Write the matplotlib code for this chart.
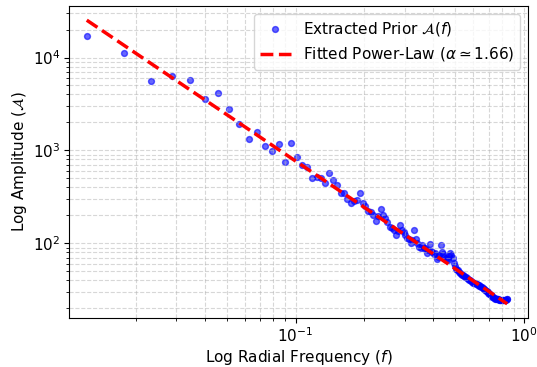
import numpy as np
import matplotlib
matplotlib.use("Agg")
import matplotlib.pyplot as plt

# radial frequency bins
freq = [
    0.0122, 0.0178, 0.0234, 0.0289, 0.0345, 0.0401, 0.0457, 0.0513, 0.0568, 0.0624,
    0.0680, 0.0736, 0.0792, 0.0847, 0.0903, 0.0959, 0.1015, 0.1071, 0.1126, 0.1182,
    0.1238, 0.1294, 0.1350, 0.1405, 0.1461, 0.1517, 0.1573, 0.1629, 0.1684, 0.1740,
    0.1796, 0.1852, 0.1908, 0.1963, 0.2019, 0.2075, 0.2131, 0.2187, 0.2242, 0.2298,
    0.2354, 0.2410, 0.2466, 0.2521, 0.2577, 0.2633, 0.2689, 0.2745, 0.2800, 0.2856,
    0.2912, 0.2968, 0.3024, 0.3079, 0.3135, 0.3191, 0.3247, 0.3303, 0.3358, 0.3414,
    0.3470, 0.3526, 0.3582, 0.3637, 0.3693, 0.3749, 0.3805, 0.3861, 0.3916, 0.3972,
    0.4028, 0.4084, 0.4140, 0.4195, 0.4251, 0.4307, 0.4363, 0.4419, 0.4474, 0.4530,
    0.4586, 0.4642, 0.4698, 0.4753, 0.4809, 0.4865, 0.4921, 0.4977, 0.5032, 0.5088,
    0.5144, 0.5200, 0.5256, 0.5311, 0.5367, 0.5423, 0.5479, 0.5535, 0.5590, 0.5646,
    0.5702, 0.5758, 0.5814, 0.5869, 0.5925, 0.5981, 0.6037, 0.6093, 0.6148, 0.6204,
    0.6260, 0.6316, 0.6372, 0.6427, 0.6483, 0.6539, 0.6595, 0.6651, 0.6706, 0.6762,
    0.6818, 0.6874, 0.6930, 0.6985, 0.7041, 0.7097, 0.7153, 0.7209, 0.7264, 0.7320,
    0.7376, 0.7432, 0.7488, 0.7543, 0.7599, 0.7655, 0.7711, 0.7767, 0.7822, 0.7878,
    0.7934, 0.7990, 0.8046, 0.8101, 0.8157, 0.8213, 0.8269, 0.8325, 0.8380, 0.8436,
]

# extracted amplitude per bin
amp = [
    17100, 11200, 5570, 6310, 5660, 3550, 4140, 2810, 1930, 1320,
    1570, 1120, 980, 1180, 750, 1210, 850, 690, 670, 505,
    520, 500, 440, 570, 476, 428, 350, 345, 300, 272,
    283, 290, 348, 272, 250, 221, 215, 200, 173, 195,
    231, 200, 188, 170, 150, 147, 140, 122, 135, 156,
    140, 132, 122, 115, 110, 101, 108, 139, 112, 101,
    92, 90, 95, 88, 90, 79, 84, 97, 82, 80,
    76, 78, 67, 72, 74, 95, 80, 76, 71, 70,
    68, 66, 73, 79, 74, 70, 62, 57, 53, 52,
    51, 49.5, 48, 46.5, 45.8, 45, 44.3, 43.5, 42.8, 42,
    41.2, 40.5, 39.8, 39, 38.3, 37.7, 37.3, 36.9, 36.5, 36,
    35.6, 35.2, 34.9, 34.5, 34, 33.5, 33, 32.4, 31.8, 31.3,
    30.8, 30.3, 29.7, 29.1, 28.6, 28.2, 27.7, 27.2, 26.7, 26.2,
    25.9, 25.6, 25.4, 25.2, 25.0, 24.9, 24.8, 24.7, 24.6, 24.5,
    24.5, 24.4, 24.4, 24.5, 24.5, 24.6, 24.7, 24.7, 24.8, 24.8,
]

# fitted power law A = C * f^-alpha
alpha = 1.66
fit_scale = 16.8

f = np.array(freq)
a = np.array(amp)
a_fit = fit_scale * f ** (-alpha)

fig = plt.figure(figsize=(5.37, 3.67), dpi=100)
ax = fig.add_axes([69 / 537, 1 - 318 / 367, 459 / 537, 312 / 367])

ax.scatter(f, a, s=18, color='blue', alpha=0.6, label=r'Extracted Prior $\mathcal{A}(f)$')
ax.plot(f, a_fit, color='red', linestyle='--', linewidth=2.5,
        label=r'Fitted Power-Law ($\alpha \simeq 1.66$)')

ax.set_xscale('log')
ax.set_yscale('log')
ax.set_xlim(0.0102, 1.04)
ax.set_xlabel(r'Log Radial Frequency ($f$)', fontsize=11, labelpad=2)
ax.set_ylabel(r'Log Amplitude ($\mathcal{A}$)', fontsize=11, labelpad=3)
ax.tick_params(axis='both', which='major', labelsize=11, pad=2.5)
ax.grid(True, which='both', linestyle='--', alpha=0.5)
ax.legend(loc='upper right', fontsize=11)

fig.savefig('out.png', dpi=100)
